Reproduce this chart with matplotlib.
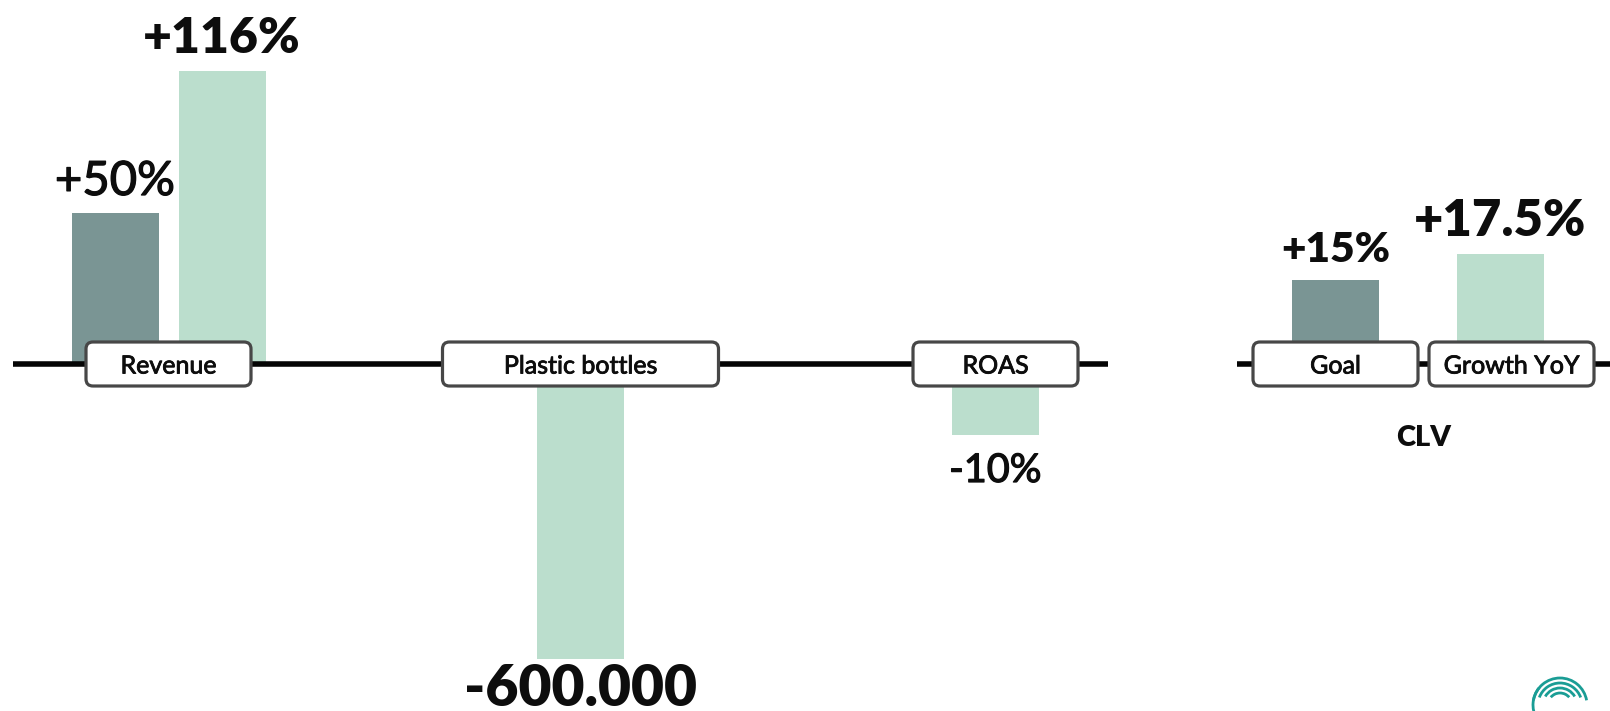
import matplotlib
matplotlib.use("Agg")
import matplotlib.pyplot as plt
from matplotlib import transforms
from matplotlib import patheffects
from matplotlib.lines import Line2D
from matplotlib.patches import FancyBboxPatch, Arc

plt.rcParams["font.family"] = ["Lato", "DejaVu Sans"]

# data, one small list per panel
revenue_series = ["Goal", "Growth YoY"]
revenue_values = [50, 116]
revenue_labels = ["+50%", "+116%"]

bottles_series = ["Growth YoY"]
bottles_values = [-600000]
bottles_labels = ["-600.000"]

roas_series = ["Growth YoY"]
roas_values = [-10]
roas_labels = ["-10%"]

clv_series = ["Goal", "Growth YoY"]
clv_values = [15, 17.5]
clv_labels = ["+15%", "+17.5%"]

# styles
W, H, DPI = 1610, 711, 100
AXIS_ROW = 364          # px from top where the zero line sits
GOAL_COLOR = "#7a9594"
GROWTH_COLOR = "#bbdecd"
TEXT_COLOR = "#0d0d0d"
BOX_EDGE = "#474747"
BOX_FONT = 18
series_colors = {"Goal": GOAL_COLOR, "Growth YoY": GROWTH_COLOR}

# Lato regular is a little thin next to the original face, thicken it slightly
medium = [patheffects.withStroke(linewidth=0.9, foreground=TEXT_COLOR)]

fig = plt.figure(figsize=(W / DPI, H / DPI), dpi=DPI)
fig.patch.set_facecolor("white")


def make_panel(center0, step, n, base, px_per_unit):
    """Axes spanning full figure height, bar i centred at center0 + i*step px."""
    left = center0 - step * 0.5
    width = step * n
    ax = fig.add_axes([left / W, 0, width / W, 1])
    ax.set_xlim(-0.5, n - 0.5)
    ax.set_ylim(base - (H - AXIS_ROW) / px_per_unit, base + AXIS_ROW / px_per_unit)
    ax.axis("off")
    ax.patch.set_alpha(0)
    return ax


def draw_bars(ax, series, values, labels, base, step, sizes, weights):
    bar_w = 87 / step
    for i, (s, v, lab) in enumerate(zip(series, values, labels)):
        ax.bar(i, v - base, bottom=base, width=bar_w, color=series_colors[s], zorder=1)
        if v >= base:
            off = 18 * 0.72
        else:
            off = -47 * 0.72
        t = ax.annotate(lab, (i, v), xytext=(0, off), textcoords="offset points",
                        ha="center", va="baseline", fontsize=sizes[i], fontweight=weights[i],
                        color=TEXT_COLOR, annotation_clip=False)
        if weights[i] == "normal":
            t.set_path_effects(medium)


def label_box(ax, x, y, text, width_px, dx_px=0, height_px=44):
    trans = fig.dpi_scale_trans + transforms.ScaledTranslation(x, y, ax.transData)
    box = FancyBboxPatch(((dx_px - width_px / 2) / DPI, -height_px / 2 / DPI),
                         width_px / DPI, height_px / DPI,
                         boxstyle="round,pad=0,rounding_size=0.07",
                         facecolor="white", edgecolor=BOX_EDGE, linewidth=2.3,
                         transform=trans, zorder=3)
    fig.add_artist(box)
    ttrans = transforms.offset_copy(ax.transData, fig=fig, x=dx_px / DPI, y=0, units="inches")
    fig.text(x, y, text, transform=ttrans, ha="center", va="center_baseline",
             fontsize=BOX_FONT, color=TEXT_COLOR, zorder=4,
             path_effects=[patheffects.withStroke(linewidth=0.6, foreground=TEXT_COLOR)])


# Revenue
rev_base, rev_scale, rev_step = -20.2, 2.151, 107
ax_rev = make_panel(115, rev_step, 2, rev_base, rev_scale)
draw_bars(ax_rev, revenue_series, revenue_values, revenue_labels, rev_base, rev_step,
          [34, 36], ["normal", "heavy"])
label_box(ax_rev, 0.5, rev_base, "Revenue", 165)

# Plastic bottles
bot_base, bot_scale, bot_step = 0, 295 / 600000, 108.75
ax_bot = make_panel(580.5, bot_step, 1, bot_base, bot_scale)
draw_bars(ax_bot, bottles_series, bottles_values, bottles_labels, bot_base, bot_step,
          [41], ["heavy"])
label_box(ax_bot, 0, bot_base, "Plastic bottles", 276)

# ROAS
roas_base, roas_scale, roas_step = 0, 7.1, 108.75
ax_roas = make_panel(995.5, roas_step, 1, roas_base, roas_scale)
draw_bars(ax_roas, roas_series, roas_values, roas_labels, roas_base, roas_step,
          [28.5], ["normal"])
label_box(ax_roas, 0, roas_base, "ROAS", 165)

# CLV
clv_base, clv_scale, clv_step = 6.92, 10.4, 165
ax_clv = make_panel(1335.5, clv_step, 2, clv_base, clv_scale)
draw_bars(ax_clv, clv_series, clv_values, clv_labels, clv_base, clv_step,
          [30.5, 36.5], ["heavy", "heavy"])
label_box(ax_clv, 0, clv_base, clv_series[0], 165)
label_box(ax_clv, 1, clv_base, clv_series[1], 165, dx_px=11)
ax_clv.annotate("CLV", (0.533, clv_base), xytext=(0, -74 * 0.72), textcoords="offset points",
                ha="center", va="center", fontsize=21, fontweight="heavy",
                color=TEXT_COLOR, annotation_clip=False)

# zero lines, drawn over the bars but under the label boxes
yline = 1 - AXIS_ROW / H
for x0, x1 in [(13, 1108), (1237, 1610)]:
    fig.add_artist(Line2D([x0 / W, x1 / W], [yline, yline], color="#050505",
                          linewidth=4, solid_capstyle="butt", zorder=2))

# small logo mark in the corner
logo = fig.add_axes([0, 0, 1, 1], zorder=5)
logo.set_xlim(0, W)
logo.set_ylim(H, 0)
logo.axis("off")
logo.patch.set_alpha(0)
for r, t1, t2 in [(27, 190, 350), (22, 200, 340), (17, 210, 330), (12, 220, 320)]:
    logo.add_patch(Arc((1560, 705), 2 * r, 2 * r, theta1=t1, theta2=t2,
                       color="#1a9d95", linewidth=2))
logo.add_patch(Arc((1560, 705), 54, 54, theta1=150, theta2=220, color="#1a9d95", linewidth=2))

fig.savefig("out.png", dpi=DPI)
